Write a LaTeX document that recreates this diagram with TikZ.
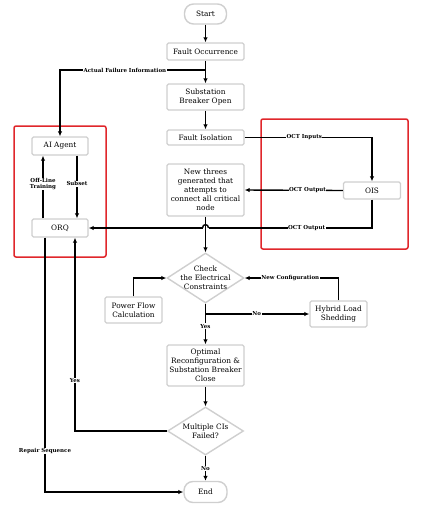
\documentclass[tikz,border=0pt]{standalone}
\usepackage{fontspec}
\setmainfont{DejaVu Serif}
\usetikzlibrary{arrows.meta,shapes.geometric,positioning}
\definecolor{boxgray}{HTML}{CFCFCF}
\definecolor{redc}{HTML}{E0262B}
\newcommand{\mainf}{\fontsize{7.35}{9}\selectfont}
\newcommand{\labf}{\fontsize{5.5}{6.2}\selectfont\bfseries}
\begin{document}
\begin{tikzpicture}[x=1pt,y=-1pt,
  box/.style={draw=boxgray, line width=1.4pt, rounded corners=1.5pt, fill=white, align=center, font=\mainf, inner sep=1pt},
  pill/.style={box, rounded corners=9pt},
  dia/.style={draw=boxgray, line width=1.4pt, diamond, fill=white, inner sep=0pt},
  txt/.style={align=center, font=\mainf, inner sep=0pt},
  arr/.style={-{Latex[length=5pt,width=4.5pt]}, line width=1.4pt},
  ln/.style={line width=1.4pt},
  lab/.style={font=\labf, fill=white, inner sep=0.5pt, align=center},
  redbox/.style={draw=redc, line width=1.5pt, rounded corners=2pt}]
\useasboundingbox (0,0) rectangle (422,507);
% red groups
\draw[redbox] (14,126) rectangle (106,257);
\draw[redbox] (261,119) rectangle (408,249);
% nodes
\node[pill, minimum width=42pt, minimum height=20pt] (start) at (205.5,14) {Start};
\node[box, minimum width=77pt, minimum height=17pt] (fo) at (205.5,51.5) {Fault Occurrence};
\node[box, minimum width=77pt, minimum height=26pt] (sbo) at (205.5,97) {Substation\\Breaker Open};
\node[box, minimum width=77pt, minimum height=15pt] (fi) at (205.5,137.5) {Fault Isolation};
\node[box, minimum width=77pt, minimum height=52pt] (nt) at (205.5,190) {New threes\\generated that\\attempts to\\connect all critical\\node};
\node[dia, minimum width=77pt, minimum height=50pt] (chk) at (205.5,278) {};
\node[txt] (chkT) at (chk.center) {Check\\the Electrical\\Constraints};
\node[box, minimum width=57pt, minimum height=26pt] (pf) at (133.5,310) {Power Flow\\Calculation};
\node[box, minimum width=57pt, minimum height=26pt] (hls) at (338.5,314) {Hybrid Load\\Shedding};
\node[box, minimum width=77pt, minimum height=41pt] (opt) at (205.5,365.5) {Optimal\\Reconfiguration \&\\Substation Breaker\\Close};
\node[dia, minimum width=76pt, minimum height=48pt] (mci) at (205.5,431) {};
\node[txt] (mciT) at (mci.center) {Multiple CIs\\Failed?};
\node[pill, minimum width=43pt, minimum height=21pt] (end) at (205.5,492) {End};
\node[box, minimum width=56pt, minimum height=18pt] (ai) at (60,146) {AI Agent};
\node[box, minimum width=56pt, minimum height=18pt] (orq) at (60,228) {ORQ};
\node[box, minimum width=57pt, minimum height=17pt] (ois) at (372,190.5) {OIS};
% main flow
\draw[arr] (start) -- (fo);
\draw[arr] (fo) -- (sbo);
\draw[arr] (sbo) -- (fi);
\coordinate (afi) at (205.5,70);
\draw[arr] (afi) -| (ai.north) node[lab, pos=0.277] {Actual Failure Information};
\draw[arr] (fi.east) -| (ois.north) node[lab, pos=0.234] {OCT Inputs};
\draw[arr] (ois.west) -- (nt.east) node[lab, pos=0.36] {OCT Output};
\coordinate (hopR) at (208.5,228);
\coordinate (hopL) at (202.5,228);
\draw[ln] (ois.south) |- (hopR) node[lab, pos=0.70] {OCT Output};
\draw[ln] (hopR) .. controls (208.5,223.5) and (202.5,223.5) .. (hopL);
\draw[arr] (hopL) -- (orq.east);
\draw[arr] (nt) -- (chk);
\draw[arr] (pf.north) |- (chk.west);
\draw[arr] (hls.north) |- (chk.east) node[lab, pos=0.757] {New Configuration};
\draw[arr] (chk.south) |- (hls.west) node[lab, pos=0.747] {No};
\draw[arr] (chk.south) -- (opt.north) node[lab, pos=0.55] {Yes};
\draw[arr] (opt) -- (mci);
\draw[arr] (mci) -- (end) node[lab, pos=0.5] {No};
\draw[arr] (mci.west) -| ([xshift=15pt]orq.south) node[lab, pos=0.63] {Yes};
\draw[arr] ([xshift=-15pt]orq.south) |- (end.west) node[lab, pos=0.42] {Repair Sequence};
% AI loop
\draw[arr] ([xshift=-17pt]orq.north) -- ([xshift=-17pt]ai.south) node[lab, pos=0.55] {Off-Line\\Training};
\draw[arr] ([xshift=17pt]ai.south) -- ([xshift=17pt]orq.north) node[lab, pos=0.45] {Subset};
\end{tikzpicture}
\end{document}
